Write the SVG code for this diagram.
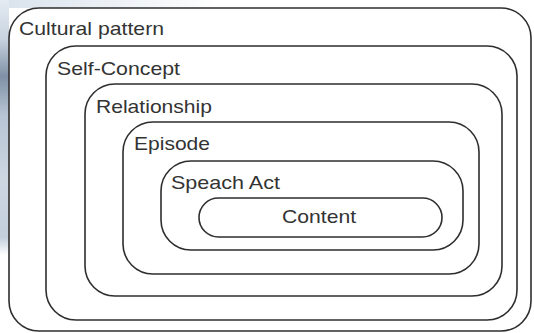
<svg xmlns="http://www.w3.org/2000/svg" width="534" height="333" viewBox="0 0 534 333">
<defs>
<linearGradient id="bgV" x1="0" y1="0" x2="0" y2="1">
<stop offset="0" stop-color="#e4ebf3"/>
<stop offset="0.15" stop-color="#c9d4e0"/>
<stop offset="0.3" stop-color="#7f91a6"/>
<stop offset="0.45" stop-color="#b7c4d3"/>
<stop offset="0.7" stop-color="#cdd7e2"/>
<stop offset="0.93" stop-color="#c3cfdc"/>
<stop offset="1" stop-color="#ffffff"/>
</linearGradient>
<linearGradient id="bgH" x1="0" y1="0" x2="1" y2="0">
<stop offset="0" stop-color="#d9e2ec"/>
<stop offset="1" stop-color="#ffffff"/>
</linearGradient>
<style>
.box{fill:none;stroke:#2e2e2e;stroke-width:1.6}
.lbl{font-family:"Liberation Sans",Arial,sans-serif;font-size:19px;fill:#333}
</style>
</defs>
<rect x="0" y="0" width="534" height="333" fill="#fff"/>
<rect x="0" y="0" width="220" height="8" fill="url(#bgH)"/>
<rect x="0" y="0" width="9" height="255" fill="url(#bgV)"/>
<g id="cultural-pattern">
<rect class="box" x="9" y="8" width="522" height="323" rx="30" ry="30"/>
<text class="lbl" x="19" y="35" textLength="145" lengthAdjust="spacingAndGlyphs">Cultural pattern</text>
</g>
<g id="self-concept">
<rect class="box" x="46" y="46" width="471" height="274" rx="30" ry="30"/>
<text class="lbl" x="57" y="75" textLength="123" lengthAdjust="spacingAndGlyphs">Self-Concept</text>
</g>
<g id="relationship">
<rect class="box" x="85" y="84" width="417" height="212" rx="30" ry="30"/>
<text class="lbl" x="96" y="113" textLength="116" lengthAdjust="spacingAndGlyphs">Relationship</text>
</g>
<g id="episode">
<rect class="box" x="123" y="122" width="356" height="152" rx="30" ry="30"/>
<text class="lbl" x="134" y="150" textLength="76" lengthAdjust="spacingAndGlyphs">Episode</text>
</g>
<g id="speach-act">
<rect class="box" x="161" y="161" width="302" height="89" rx="30" ry="30"/>
<text class="lbl" x="171" y="189" textLength="109" lengthAdjust="spacingAndGlyphs">Speach Act</text>
</g>
<g id="content">
<rect class="box" x="199" y="198" width="243" height="39" rx="19.5" ry="19.5"/>
<text class="lbl" x="282" y="223" textLength="74" lengthAdjust="spacingAndGlyphs">Content</text>
</g>
<g id="connectors"/>
</svg>
